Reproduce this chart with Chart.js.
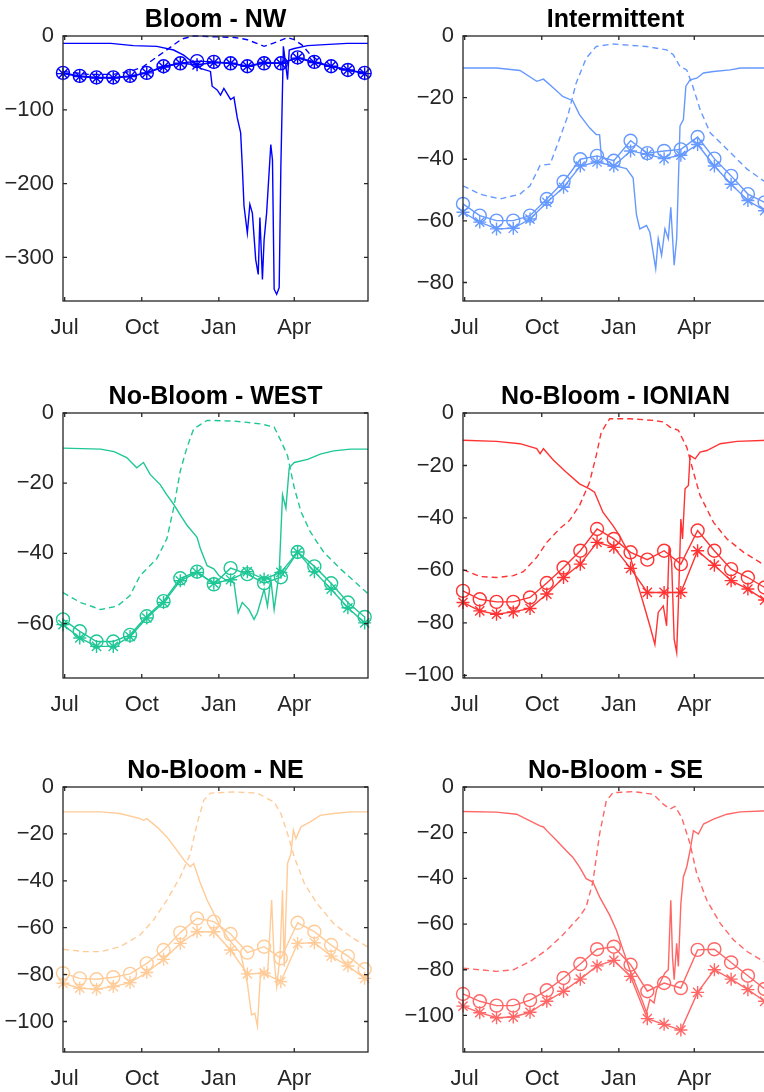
<!DOCTYPE html>
<html>
<head>
<meta charset="utf-8">
<script src="https://cdn.jsdelivr.net/npm/chart.js@4.4.1/dist/chart.umd.min.js"></script>
<style>
html, body { margin: 0; padding: 0; background: #fff; overflow: hidden; width: 764px; height: 1092px; }
canvas { position: absolute; }
</style>
</head>
<body>
<canvas id="nw" width="400" height="346" style="left:0px;top:0px"></canvas>
<canvas id="int" width="400" height="346" style="left:400px;top:0px"></canvas>
<canvas id="west" width="400" height="346" style="left:0px;top:377px"></canvas>
<canvas id="ion" width="400" height="346" style="left:400px;top:377px"></canvas>
<canvas id="ne" width="400" height="346" style="left:0px;top:751px"></canvas>
<canvas id="se" width="400" height="346" style="left:400px;top:751px"></canvas>
<script>
// days counted from the start of the axis (late June)
const xTickDays = [2, 94, 186, 276];
const xTickLabels = ['Jul', 'Oct', 'Jan', 'Apr'];
const markerDays = [0, 20, 40, 60, 80, 100, 120, 140, 160, 180, 200, 220, 240, 260, 280, 300, 320, 340, 360];

// Bloom - NW
const nwTicks = [0, -100, -200, -300];
const nwCircle = [-50, -54, -56, -56, -54, -50, -41, -37, -34, -35, -37, -41, -37, -37, -29, -35, -41, -46, -50];
const nwStar = [-51, -55, -57, -57, -55, -50, -42, -37, -39, -36, -37, -41, -36, -37, -30, -36, -41, -46, -51];
const nwSolidDays = [0, 57, 84, 112, 132, 144, 164, 176, 178, 184, 188, 192, 200, 204, 208, 212, 214, 216, 220, 223, 226, 230, 233, 235, 238, 240, 243, 248, 250, 252, 255, 258, 260, 263, 268, 270, 276, 292, 307, 339, 364];
const nwSolidVals = [-10, -10, -13, -14, -19, -26, -44, -48, -68, -73, -80, -71, -86, -83, -111, -131, -177, -230, -267, -228, -240, -303, -323, -246, -330, -276, -240, -147, -168, -343, -350, -341, -177, -14, -59, -19, -17, -13, -12, -10, -10];
const nwDashDays = [0, 30, 60, 80, 95, 110, 120, 132, 142, 156, 180, 205, 220, 240, 255, 268, 276, 285, 295, 310, 330, 364];
const nwDashVals = [-48, -52, -52, -48, -42, -30, -22, -12, -4, 0, -1, -2, -5, -14, -8, -2, -5, -12, -25, -38, -45, -50];

// Intermittent
const intTicks = [0, -20, -40, -60, -80];
const intCircle = [-54.5, -58.3, -59.9, -59.9, -58.3, -52.9, -47.3, -40, -38.9, -40.5, -34, -38, -37.3, -36.8, -32.8, -39.8, -45.4, -51.3, -54];
const intStar = [-57.2, -60.4, -62.6, -62.4, -59.4, -54, -49.1, -42.2, -40.9, -42.2, -37.3, -38.4, -39.8, -38.7, -35.2, -42.2, -48.1, -53.4, -56.7];
const intSolidDays = [0, 40, 68, 88, 96, 108, 119, 131, 139, 151, 159, 163, 165, 179, 195, 203, 207, 211, 219, 223, 230, 233, 237, 241, 245, 248, 252, 255, 259, 263, 266, 271, 279, 287, 299, 319, 331, 364];
const intSolidVals = [-10.4, -10.4, -11.2, -14.7, -14, -16.9, -19.6, -21, -25.5, -29.8, -32, -32, -38.9, -42, -43, -46, -58, -62.6, -61.5, -63.7, -75.5, -65.8, -71.2, -62.6, -65.8, -55.6, -74.4, -65.8, -29.2, -27.1, -16.3, -14.2, -13.7, -12, -11.5, -11, -10.4, -10.4];
const intDashDays = [0, 20, 44, 68, 80, 92, 104, 115, 125, 135, 147, 159, 179, 219, 243, 251, 259, 267, 273, 283, 295, 307, 323, 339, 364];
const intDashVals = [-48.6, -51.3, -52.9, -51.3, -48.6, -42, -41.6, -33.5, -26, -15.3, -7.2, -3.4, -2.6, -3.4, -4.5, -6.1, -9.9, -11, -15.3, -23.9, -31.4, -34.6, -38.9, -43.2, -48];

// No-Bloom - WEST
const westTicks = [0, -20, -40, -60];
const westCircle = [-58.8, -62.2, -65.1, -65.1, -63.2, -57.9, -53.6, -47.1, -45.2, -48.8, -44.2, -45.9, -48.5, -46.8, -39.6, -43.7, -48.5, -54, -58.1];
const westStar = [-60.3, -64.1, -66.5, -66.5, -63.7, -58.4, -54, -47.8, -45.4, -48.5, -47.5, -45.2, -47.3, -45.4, -39.6, -45.2, -50.2, -55.5, -59.8];
const westSolidDays = [0, 45, 61, 76, 88, 96, 104, 116, 124, 132, 140, 148, 160, 164, 172, 180, 186, 196, 204, 209, 214, 222, 228, 232, 240, 244, 248, 252, 258, 262, 266, 270, 276, 292, 307, 323, 343, 364];
const westSolidVals = [-10, -10.3, -11, -12.7, -15.6, -14.1, -17.5, -20.4, -23.3, -26, -29, -32, -35.4, -38.7, -43.5, -44.4, -46.3, -47.8, -48.3, -56.9, -54, -56, -58.8, -56.9, -50.2, -55, -47.3, -56, -45.4, -23.3, -27.1, -15.6, -14.1, -13.2, -11.7, -10.8, -10.3, -10.3];
const westDashDays = [0, 21, 45, 65, 80, 92, 100, 112, 124, 132, 140, 148, 156, 172, 204, 236, 252, 260, 268, 276, 284, 295, 311, 331, 347, 364];
const westDashVals = [-51.2, -54, -56, -55, -52, -46.3, -44.4, -41.5, -35.8, -27.1, -16.5, -9.8, -4.5, -2.1, -2.3, -3.1, -4, -7.9, -12.2, -21.3, -28.1, -33.8, -39.6, -44.4, -47.8, -51.5];

// No-Bloom - IONIAN
const ionTicks = [0, -20, -40, -60, -80, -100];
const ionCircle = [-67.8, -71, -72, -72, -70.3, -64.8, -58.9, -52.5, -44.2, -48, -53.1, -55.9, -52.5, -57.6, -44.8, -52.5, -59.5, -62.7, -66.5];
const ionStar = [-72.2, -75.4, -76.7, -75.8, -74.5, -69, -62.7, -57.6, -49.3, -51.2, -59.2, -68.4, -68.4, -68.4, -52.5, -58, -63.9, -67.1, -71.3];
const ionSolidDays = [0, 40, 68, 88, 92, 96, 108, 123, 139, 151, 157, 167, 179, 187, 191, 199, 209, 215, 223, 229, 233, 239, 243, 246, 249, 252, 255, 257, 260, 262, 265, 269, 271, 277, 283, 291, 307, 327, 364];
const ionSolidVals = [-10.4, -10.8, -11.7, -13.6, -15.5, -13.6, -18, -22.5, -27, -28.9, -30.2, -37.8, -42.9, -46.8, -49.3, -53.8, -65.9, -72.2, -81.1, -88.2, -76, -73.5, -81.1, -50.6, -57, -86.2, -91.3, -73.5, -40.4, -48, -28.9, -27.6, -16.2, -17.5, -14.9, -14.3, -11.7, -10.8, -10.4];
const ionDashDays = [0, 20, 40, 60, 72, 88, 100, 115, 127, 139, 151, 159, 165, 175, 199, 227, 239, 247, 257, 267, 275, 283, 299, 315, 335, 364];
const ionDashVals = [-59.7, -62.3, -62.7, -62, -60.5, -55, -49.3, -44.2, -41, -35.3, -26.4, -16.2, -7.3, -2.2, -2.2, -2.8, -3.4, -5.4, -6.6, -13, -22.5, -31.5, -41.7, -48, -53.1, -58.8];

// No-Bloom - NE
const neTicks = [0, -20, -40, -60, -80, -100];
const neCircle = [-79.4, -81.6, -82, -81.1, -79.7, -75.2, -69.5, -62.1, -56, -57.4, -62.7, -70.6, -68.1, -73, -57.9, -61.7, -67.4, -72.1, -77.7];
const neStar = [-83.7, -85.8, -86.2, -85.1, -83.4, -79.1, -73.5, -66.7, -61.7, -61.7, -69.5, -79.7, -79.4, -83, -66.7, -66.4, -72.1, -76.3, -81.6];
const neSolidDays = [0, 45, 68, 92, 96, 100, 112, 124, 136, 146, 152, 156, 164, 172, 180, 188, 200, 212, 220, 225, 229, 232, 236, 244, 249, 252, 255, 259, 262, 264, 268, 272, 275, 278, 284, 295, 307, 323, 343, 364];
const neSolidVals = [-10.6, -10.6, -11.3, -13.5, -14.2, -13.5, -17, -21.3, -27, -31.9, -34, -32.6, -41.1, -48.2, -53.9, -59.6, -65.9, -70.9, -83.7, -97.2, -96.5, -102, -78, -80.9, -48.2, -73.8, -85.1, -72.3, -44, -76.6, -32.6, -28.4, -18.4, -22, -17, -14.9, -12.1, -11.3, -10.6, -10.6];
const neDashDays = [0, 25, 45, 68, 92, 108, 124, 140, 152, 160, 168, 176, 204, 232, 244, 252, 260, 268, 276, 288, 303, 323, 343, 364];
const neDashVals = [-69.2, -70.2, -70.2, -68.1, -63.1, -56.7, -48.2, -38.3, -28.4, -15.6, -5.7, -2.6, -2.1, -2.6, -5, -6.4, -11.3, -19.9, -29.8, -41.1, -49.6, -58.2, -63.8, -68.3];

// No-Bloom - SE
const seTicks = [0, -20, -40, -60, -80, -100];
const seCircle = [-90.6, -93.8, -95.7, -95.7, -93.3, -89, -83.6, -77.5, -71, -69.9, -77.8, -89.4, -85.8, -88, -71.3, -71, -76.8, -82.6, -88.4];
const seStar = [-95.9, -98.8, -101, -100.7, -98.6, -93.8, -89.4, -84.1, -78.3, -75.9, -82.9, -101.4, -103.9, -106.4, -89.9, -80, -84.1, -88.7, -93.8];
const seSolidDays = [0, 40, 64, 80, 92, 96, 100, 112, 123, 131, 139, 147, 155, 163, 175, 183, 191, 199, 207, 215, 219, 223, 228, 231, 235, 241, 245, 248, 250, 252, 255, 257, 260, 263, 267, 271, 275, 281, 287, 299, 315, 331, 364];
const seSolidVals = [-10.7, -11, -11.9, -14.8, -17, -17.5, -19.1, -23.5, -27.8, -30.7, -35, -40.1, -41.6, -48.1, -56.1, -62.6, -71.3, -80, -87.2, -94.5, -98.8, -93, -94.5, -88.7, -85.8, -81.4, -80, -49.6, -74.2, -84.3, -68.4, -78.6, -51, -39.4, -35, -27.8, -19.1, -20.6, -16.2, -14.1, -11.9, -10.9, -10.4];
const seDashDays = [0, 20, 40, 60, 80, 100, 119, 139, 147, 155, 163, 171, 179, 203, 227, 239, 247, 253, 261, 271, 279, 291, 307, 323, 339, 364];
const seDashVals = [-79.3, -80, -80.7, -80, -76.4, -71.3, -64.8, -56.8, -52.5, -41.6, -20.6, -6.1, -2.5, -2, -3.2, -7.5, -9.7, -8.5, -13.3, -24.9, -38, -49.6, -59.7, -67, -72, -77.5];

const axisColor = '#262626';
const fontFamily = '"Liberation Sans", Arial, sans-serif';

// MATLAB-like box, inward ticks and bold title
const framePlugin = {
    id: 'frame',
    afterDraw(chart, args, opts) {
        const ctx = chart.ctx;
        const a = chart.chartArea;
        const x = chart.scales.x;
        const y = chart.scales.y;
        ctx.save();
        ctx.strokeStyle = axisColor;
        ctx.lineWidth = 1.3;
        ctx.strokeRect(a.left, a.top, a.right - a.left, a.bottom - a.top);
        ctx.beginPath();
        x.ticks.forEach(t => {
            const px = x.getPixelForValue(t.value);
            ctx.moveTo(px, a.bottom);
            ctx.lineTo(px, a.bottom - 4);
            ctx.moveTo(px, a.top);
            ctx.lineTo(px, a.top + 4);
        });
        y.ticks.forEach(t => {
            const py = y.getPixelForValue(t.value);
            ctx.moveTo(a.left, py);
            ctx.lineTo(a.left + 4, py);
            ctx.moveTo(a.right, py);
            ctx.lineTo(a.right - 4, py);
        });
        ctx.stroke();
        ctx.fillStyle = '#000';
        ctx.font = 'bold 25px ' + fontFamily;
        ctx.textAlign = 'center';
        ctx.textBaseline = 'middle';
        ctx.fillText(opts.text, (a.left + a.right) / 2, a.top - 16);
        ctx.restore();
    }
};

function toPoints(days, vals) {
    return days.map((d, i) => ({ x: d, y: vals[i] }));
}

function lineSet(days, vals, color, dash) {
    return {
        data: toPoints(days, vals),
        borderColor: color,
        borderWidth: 1.4,
        borderDash: dash,
        pointRadius: 0,
        tension: 0,
        clip: false
    };
}

function markerSet(vals, color, style) {
    return {
        data: toPoints(markerDays, vals),
        borderColor: color,
        borderWidth: 1.4,
        pointStyle: style,
        pointRadius: 6.5,
        pointBorderColor: color,
        pointBackgroundColor: 'rgba(0,0,0,0)',
        pointBorderWidth: 1.4,
        tension: 0,
        clip: false
    };
}

function makePanel(id, title, color, yMin, yTicks, solidDays, solidVals, dashDays, dashVals, circles, stars) {
    new Chart(document.getElementById(id), {
        type: 'line',
        data: {
            datasets: [
                lineSet(solidDays, solidVals, color, []),
                lineSet(dashDays, dashVals, color, [6, 4]),
                markerSet(circles, color, 'circle'),
                markerSet(stars, color, 'star')
            ]
        },
        options: {
            responsive: false,
            animation: false,
            events: [],
            layout: { padding: { top: 36, right: 32, left: 0, bottom: 0 } },
            plugins: {
                legend: { display: false },
                tooltip: { enabled: false },
                frame: { text: title }
            },
            scales: {
                x: {
                    type: 'linear',
                    min: 0,
                    max: 364,
                    grid: { display: false, drawTicks: false },
                    border: { display: false },
                    afterBuildTicks: scale => {
                        scale.ticks = xTickDays.map(v => ({ value: v }));
                    },
                    afterFit: scale => { scale.height = 45; },
                    ticks: {
                        autoSkip: false,
                        maxRotation: 0,
                        padding: 14,
                        color: axisColor,
                        font: { family: fontFamily, size: 22 },
                        callback: value => xTickLabels[xTickDays.indexOf(value)]
                    }
                },
                y: {
                    type: 'linear',
                    min: yMin,
                    max: 0,
                    grid: { display: false, drawTicks: false },
                    border: { display: false },
                    afterBuildTicks: scale => {
                        scale.ticks = yTicks.map(v => ({ value: v }));
                    },
                    afterFit: scale => { scale.width = 63; },
                    ticks: {
                        padding: 9,
                        color: axisColor,
                        font: { family: fontFamily, size: 22 },
                        callback: value => String(value).replace('-', '\u2212')
                    }
                }
            }
        },
        plugins: [framePlugin]
    });
}

makePanel('nw', 'Bloom - NW', '#0000FF', -359, nwTicks, nwSolidDays, nwSolidVals, nwDashDays, nwDashVals, nwCircle, nwStar);
makePanel('int', 'Intermittent', '#6699FF', -86, intTicks, intSolidDays, intSolidVals, intDashDays, intDashVals, intCircle, intStar);
makePanel('west', 'No-Bloom - WEST', '#1FC796', -75.5, westTicks, westSolidDays, westSolidVals, westDashDays, westDashVals, westCircle, westStar);
makePanel('ion', 'No-Bloom - IONIAN', '#FF3333', -101, ionTicks, ionSolidDays, ionSolidVals, ionDashDays, ionDashVals, ionCircle, ionStar);
makePanel('ne', 'No-Bloom - NE', '#FFCC99', -113, neTicks, neSolidDays, neSolidVals, neDashDays, neDashVals, neCircle, neStar);
makePanel('se', 'No-Bloom - SE', '#FF6666', -116, seTicks, seSolidDays, seSolidVals, seDashDays, seDashVals, seCircle, seStar);
</script>
</body>
</html>
